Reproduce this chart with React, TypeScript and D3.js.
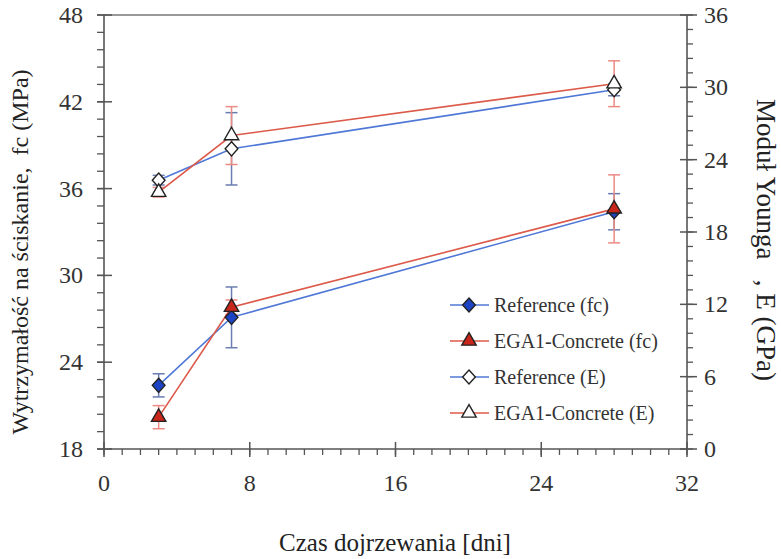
import React from 'react';
import * as d3 from 'd3';

const days = [3, 7, 28];

const refFc = [22.4, 27.1, 34.4];
const refFcErr = [0.8, 2.1, 1.25];
const egaFc = [20.2, 27.8, 34.6];
const egaFcErr = [0.8, 0.5, 2.35];

const refE = [22.3, 24.9, 29.8];
const refEErr = [0.4, 3.0, 0.5];
const egaE = [21.3, 26.0, 30.3];
const egaEErr = [0.4, 2.4, 1.9];

const xTicks = [0, 8, 16, 24, 32];
const leftTicks = [18, 24, 30, 36, 42, 48];
const rightTicks = [0, 6, 12, 18, 24, 30, 36];

const legendLabels = ['Reference (fc)', 'EGA1-Concrete (fc)', 'Reference (E)', 'EGA1-Concrete (E)'];

const FONT = "'Liberation Serif', 'Times New Roman', Times, serif";
const BLUE = '#4f78d6';
const RED = '#dc5a4a';
const BLUE_ERR = '#6a7db0';
const RED_ERR = '#ec8a84';
const AXIS = '#555';

const left = 104;
const right = 687;
const top = 15;
const bottom = 449;

// wide diamond, like a square turned 45 degrees
const wideDiamond = {
  draw(ctx: any, size: number) {
    const h = Math.sqrt(size / 2);
    const w = h * 0.9;
    ctx.moveTo(0, -h);
    ctx.lineTo(w, 0);
    ctx.lineTo(0, h);
    ctx.lineTo(-w, 0);
    ctx.closePath();
  },
};

const App = () => {
  const x = d3.scaleLinear().domain([0, 32]).range([left, right]);
  const yL = d3.scaleLinear().domain([18, 48]).range([bottom, top]);
  const yR = d3.scaleLinear().domain([0, 36]).range([bottom, top]);

  const diamond = d3.symbol().type(wideDiamond as any).size(100)();
  const triangle = d3.symbol().type(d3.symbolTriangle).size(90)();

  const series = [
    { vals: refFc, err: refFcErr, y: yL, color: BLUE, errColor: BLUE_ERR, path: diamond, fill: '#1d44c4' },
    { vals: egaFc, err: egaFcErr, y: yL, color: RED, errColor: RED_ERR, path: triangle, fill: '#c8261a' },
    { vals: refE, err: refEErr, y: yR, color: BLUE, errColor: BLUE_ERR, path: diamond, fill: '#fff' },
    { vals: egaE, err: egaEErr, y: yR, color: RED, errColor: RED_ERR, path: triangle, fill: '#fff' },
  ];

  const xMinor = d3.range(0, 33, 1);
  const lMinor = d3.range(18, 48.01, 1.2);
  const rMinor = d3.range(0, 36.01, 1.2);

  const drawOrder = [2, 3, 0, 1];
  const textStyle = { fontFamily: FONT, whiteSpace: 'pre' as const };

  return (
    <svg width={781} height={559} style={{ position: 'absolute', left: 0, top: 0, background: '#fff' }}>
      {/* frame */}
      <line x1={left} x2={right} y1={top} y2={top} stroke="#777" strokeWidth={1.5} />
      <line x1={left} x2={left} y1={top} y2={bottom} stroke={AXIS} strokeWidth={1.6} />
      <line x1={right} x2={right} y1={top} y2={bottom} stroke={AXIS} strokeWidth={1.6} />
      <line x1={left} x2={right} y1={bottom} y2={bottom} stroke={AXIS} strokeWidth={1.6} />

      {/* minor ticks */}
      {xMinor.map((v) => (
        <line key={'xm' + v} x1={x(v)} x2={x(v)} y1={bottom} y2={bottom + 6} stroke={AXIS} strokeWidth={1.3} />
      ))}
      {lMinor.map((v) => (
        <line key={'lm' + v} x1={left - 7} x2={left} y1={yL(v)} y2={yL(v)} stroke={AXIS} strokeWidth={1.3} />
      ))}
      {rMinor.map((v) => (
        <line key={'rm' + v} x1={right} x2={right + 6} y1={yR(v)} y2={yR(v)} stroke={AXIS} strokeWidth={1.3} />
      ))}

      {/* major ticks + labels */}
      {xTicks.map((v) => (
        <g key={'x' + v}>
          <line x1={x(v)} x2={x(v)} y1={bottom - 7} y2={bottom + 8} stroke={AXIS} strokeWidth={1.5} />
          <text x={x(v)} y={491} textAnchor="middle" style={textStyle} fontSize={24} fill="#333">
            {v}
          </text>
        </g>
      ))}
      {leftTicks.map((v) => (
        <g key={'l' + v}>
          <line x1={left - 7} x2={left + 8} y1={yL(v)} y2={yL(v)} stroke={AXIS} strokeWidth={1.5} />
          <text x={83} y={yL(v) + 8} textAnchor="end" style={textStyle} fontSize={24} fill="#333">
            {v}
          </text>
        </g>
      ))}
      {rightTicks.map((v) => (
        <g key={'r' + v}>
          <line x1={right - 7} x2={right + 10} y1={yR(v)} y2={yR(v)} stroke={AXIS} strokeWidth={1.5} />
          <text x={704} y={yR(v) + 8} textAnchor="start" style={textStyle} fontSize={24} fill="#333">
            {v}
          </text>
        </g>
      ))}

      {/* axis titles */}
      <text x={395} y={551} textAnchor="middle" style={textStyle} fontSize={25} fill="#222">
        Czas dojrzewania [dni]
      </text>
      <text transform="translate(28,252) rotate(-90)" textAnchor="middle" style={textStyle} fontSize={24} fill="#222">
        Wytrzymałość na ściskanie,  fc (MPa)
      </text>
      <text transform="translate(757,240) rotate(90)" textAnchor="middle" style={textStyle} fontSize={27} fill="#222">
        Moduł Younga   , E (GPa)
      </text>

      {/* error bars */}
      {drawOrder.map((si) => {
        const s = series[si];
        return (
          <g key={'e' + si} stroke={s.errColor} strokeWidth={1.5}>
            {days.map((d, i) => {
              const cx = x(d);
              const y1 = s.y(s.vals[i] - s.err[i]);
              const y2 = s.y(s.vals[i] + s.err[i]);
              return (
                <g key={i}>
                  <line x1={cx} x2={cx} y1={y1} y2={y2} />
                  <line x1={cx - 6} x2={cx + 6} y1={y1} y2={y1} />
                  <line x1={cx - 6} x2={cx + 6} y1={y2} y2={y2} />
                </g>
              );
            })}
          </g>
        );
      })}

      {/* lines */}
      {drawOrder.map((si) => {
        const s = series[si];
        const line = d3
          .line<number>()
          .x((_, i) => x(days[i]))
          .y((v) => s.y(v));
        return <path key={'l' + si} d={line(s.vals) || ''} fill="none" stroke={s.color} strokeWidth={1.6} />;
      })}

      {/* markers */}
      {drawOrder.map((si) => {
        const s = series[si];
        return (
          <g key={'m' + si}>
            {days.map((d, i) => (
              <path
                key={i}
                d={s.path || ''}
                transform={`translate(${x(d)},${s.y(s.vals[i])})`}
                fill={s.fill}
                stroke="#222"
                strokeWidth={1.4}
              />
            ))}
          </g>
        );
      })}

      {/* legend */}
      {series.map((s, i) => {
        const ly = 305 + i * 36;
        return (
          <g key={'lg' + i}>
            <line x1={450} x2={489} y1={ly} y2={ly} stroke={s.color} strokeWidth={1.6} />
            <path d={s.path || ''} transform={`translate(469,${ly})`} fill={s.fill} stroke="#222" strokeWidth={1.4} />
            <text x={494} y={ly + 7} style={textStyle} fontSize={20} fill="#333">
              {legendLabels[i]}
            </text>
          </g>
        );
      })}
    </svg>
  );
};

export default App;
